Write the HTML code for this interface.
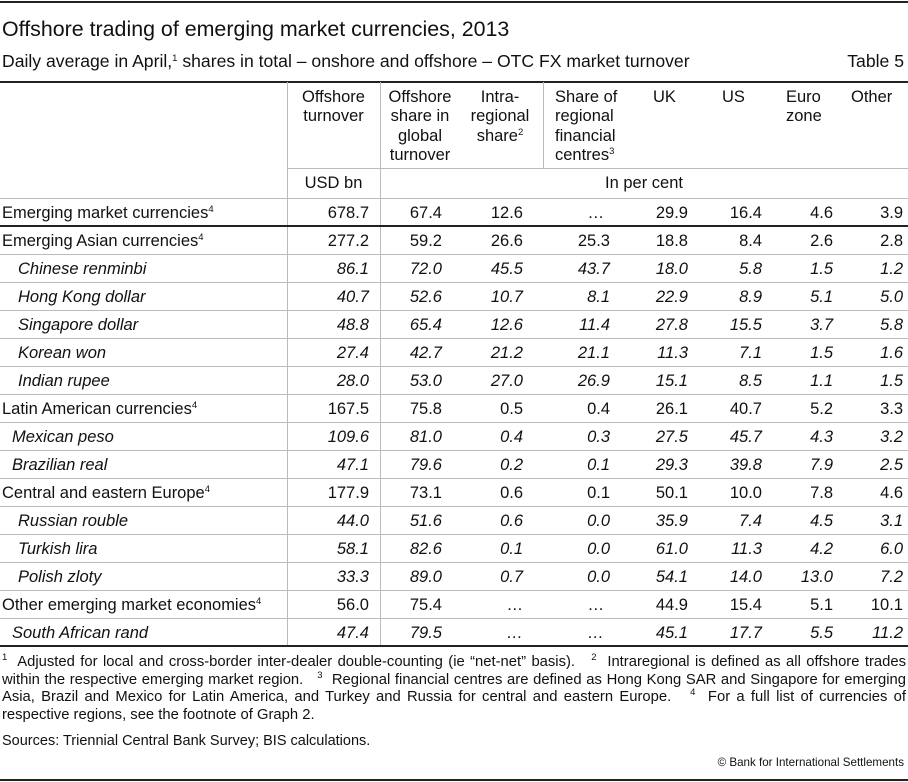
<!DOCTYPE html>
<html><head><meta charset="utf-8"><style>
body{margin:0;width:908px;height:782px;background:#fff;font-family:"Liberation Sans",Arial,sans-serif;color:#111;position:relative;overflow:hidden}
.a{position:absolute;white-space:nowrap}
.h{position:absolute;background:#222}
.g{position:absolute;background:#bbb}
.c{font-size:16.5px;line-height:18px}
sup{font-size:9.5px;vertical-align:6px;line-height:0}
.hd{font-size:16.5px;line-height:19.3px;text-align:center}
.fn{font-size:14.8px;line-height:17.5px;text-align:justify;white-space:normal}
</style></head><body>
<div class="h" style="left:0;top:1px;width:908px;height:2px"></div>
<div class="a" style="left:2px;top:17px;font-size:21.4px">Offshore trading of emerging market currencies, 2013</div>
<div class="a" style="left:2px;top:51px;font-size:17.6px">Daily average in April,<sup>1</sup> shares in total – onshore and offshore – OTC FX market turnover</div>
<div class="a" style="right:4px;top:51px;font-size:17.6px">Table 5</div>
<div class="h" style="left:0;top:81px;width:908px;height:1.5px"></div>
<div class="g" style="left:287px;top:82px;width:1px;height:564px"></div>
<div class="g" style="left:380px;top:82px;width:1px;height:564px"></div>
<div class="g" style="left:543px;top:82px;width:1px;height:86px"></div>
<div class="g" style="left:287px;top:168px;width:621px;height:1px"></div>
<div class="g" style="left:0;top:198px;width:908px;height:1px"></div>
<div class="h" style="left:0;top:225px;width:908px;height:1.5px"></div>
<div class="h" style="left:0;top:645px;width:908px;height:1.5px"></div>

<div class="a hd" style="left:287px;width:93px;top:88px">Offshore<br>turnover</div>
<div class="a hd" style="left:380px;width:80px;top:88px">Offshore<br>share in<br>global<br>turnover</div>
<div class="a hd" style="left:455px;width:90px;top:88px">Intra-<br>regional<br>share<sup>2</sup></div>
<div class="a hd" style="left:555px;top:88px;text-align:left">Share of<br>regional<br>financial<br>centres<sup>3</sup></div>
<div class="a hd" style="left:653px;top:88px;text-align:left">UK</div>
<div class="a hd" style="left:722px;top:88px;text-align:left">US</div>
<div class="a hd" style="left:786px;top:88px;text-align:left">Euro<br>zone</div>
<div class="a hd" style="left:851px;top:88px;text-align:left">Other</div>
<div class="a hd" style="left:287px;width:93px;top:174px">USD bn</div>
<div class="a hd" style="left:380px;width:528px;top:174px">In per cent</div>

<div id="rows"></div>

<div class="a fn" style="left:2px;top:654px;width:904px"><sup>1</sup>&nbsp; Adjusted for local and cross-border inter-dealer double-counting (ie “net-net” basis).&nbsp;&nbsp; <sup>2</sup>&nbsp; Intraregional is defined as all offshore trades within the respective emerging market region.&nbsp;&nbsp; <sup>3</sup>&nbsp; Regional financial centres are defined as Hong Kong SAR and Singapore for emerging Asia, Brazil and Mexico for Latin America, and Turkey and Russia for central and eastern Europe.&nbsp;&nbsp; <sup>4</sup>&nbsp; For a full list of currencies of respective regions, see the footnote of Graph 2.</div>
<div class="a" style="left:2px;top:733px;font-size:14.5px">Sources: Triennial Central Bank Survey; BIS calculations.</div>
<div class="a" style="right:4px;top:756px;font-size:11.6px">© Bank for International Settlements</div>
<div class="h" style="left:0;top:779px;width:908px;height:2px"></div>

<script>
const labels=["Emerging market currencies","Emerging Asian currencies","Chinese renminbi","Hong Kong dollar","Singapore dollar","Korean won","Indian rupee","Latin American currencies","Mexican peso","Brazilian real","Central and eastern Europe","Russian rouble","Turkish lira","Polish zloty","Other emerging market economies","South African rand"];
const isSub=[0,0,1,1,1,1,1,0,1,1,0,1,1,1,0,1];
const indent=[0,0,16,16,16,16,16,0,10,10,0,16,16,16,0,10];
const turnover=["678.7","277.2","86.1","40.7","48.8","27.4","28.0","167.5","109.6","47.1","177.9","44.0","58.1","33.3","56.0","47.4"];
const offShare=["67.4","59.2","72.0","52.6","65.4","42.7","53.0","75.8","81.0","79.6","73.1","51.6","82.6","89.0","75.4","79.5"];
const intra=["12.6","26.6","45.5","10.7","12.6","21.2","27.0","0.5","0.4","0.2","0.6","0.6","0.1","0.7","…","…"];
const regional=["…","25.3","43.7","8.1","11.4","21.1","26.9","0.4","0.3","0.1","0.1","0.0","0.0","0.0","…","…"];
const uk=["29.9","18.8","18.0","22.9","27.8","11.3","15.1","26.1","27.5","29.3","50.1","35.9","61.0","54.1","44.9","45.1"];
const us=["16.4","8.4","5.8","8.9","15.5","7.1","8.5","40.7","45.7","39.8","10.0","7.4","11.3","14.0","15.4","17.7"];
const euro=["4.6","2.6","1.5","5.1","3.7","1.5","1.1","5.2","4.3","7.9","7.8","4.5","4.2","13.0","5.1","5.5"];
const other=["3.9","2.8","1.2","5.0","5.8","1.6","1.5","3.3","3.2","2.5","4.6","3.1","6.0","7.2","10.1","11.2"];
const cols=[[turnover,369,'turnover'],[offShare,442,'offshore-share'],[intra,523,'intra-regional'],[regional,610,'regional-centres'],[uk,688,'uk'],[us,762,'us'],[euro,833,'euro-zone'],[other,903,'other']];
const root=document.getElementById('rows');
function rowY(i){return i===0?198:226+(i-1)*28;}
labels.forEach((lab,i)=>{
  const y=rowY(i);
  if(i>1){const l=document.createElement('div');l.className='g';l.style.cssText=`left:0;top:${y}px;width:908px;height:1px`;
  
  root.appendChild(l);}
  const d=document.createElement('div');d.className='a c';
  d.style.cssText=`left:${2+indent[i]}px;top:${y+6}px;font-style:${isSub[i]?'italic':'normal'}`;
  d.innerHTML=lab+(isSub[i]?'':'<sup>4</sup>');
  
  
  root.appendChild(d);
  cols.forEach(([arr,right,nm])=>{
    const v=arr[i];const e=document.createElement('div');e.className='a c';
    e.style.cssText=`right:${908-right}px;top:${y+6}px;font-style:${isSub[i]?'italic':'normal'}`;
    if(v==='…'){e.style.right=(908-right+(nm==='regional-centres'?6:0))+'px';}
    e.textContent=v;
    
    
    root.appendChild(e);
  });
});
</script>
</body></html>
